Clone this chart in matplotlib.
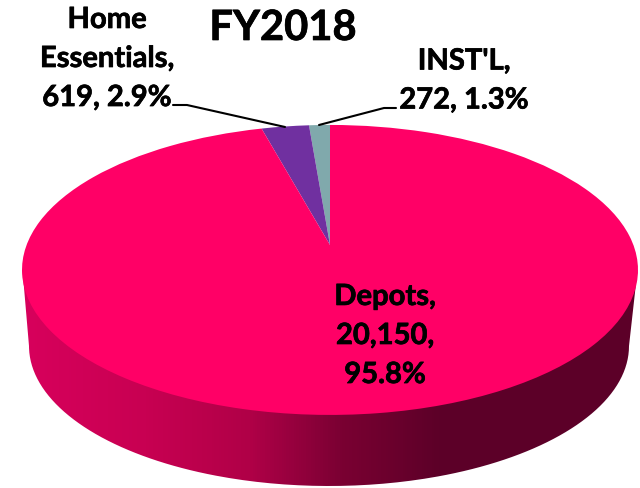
import numpy as np
import matplotlib
matplotlib.use("Agg")
import matplotlib.pyplot as plt
import matplotlib.patheffects as pe
from matplotlib.transforms import Transform
from matplotlib.path import Path
from matplotlib.patches import PathPatch
from matplotlib.colors import LinearSegmentedColormap

title = "FY2018"
names = ["INST'L", "Home\nEssentials", "Depots"]
values = [272, 619, 20150]
percents = ["1.3%", "2.9%", "95.8%"]
colors = ["#80A9AC", "#7030A0", "#FF0066"]

W, H = 640, 488
CX, CY = 330.0, 245.0
A, B, K = 303.4, 140.7, 0.172


class Perspective(Transform):
    """Maps the unit-circle pie onto a tilted disc in pixel coordinates."""
    input_dims = output_dims = 2
    has_inverted = False

    def transform_non_affine(self, xy):
        xy = np.asarray(xy, float)
        w = 1 + K * xy[:, 1]
        return np.column_stack((CX + A * xy[:, 0] / w, CY - B * xy[:, 1] / w))

    def transform_path_non_affine(self, path):
        p = path.interpolated(1)
        return Path(self.transform_non_affine(p.vertices), p.codes)


fig = plt.figure(figsize=(W / 100, H / 100), dpi=100)
ax = fig.add_axes([0, 0, 1, 1])

wedges, _ = ax.pie(values, colors=colors, startangle=90, counterclock=True,
                   wedgeprops=dict(linewidth=0))
persp = Perspective() + ax.transData
for w in wedges:
    w.set_zorder(3)
    w.set_transform(persp)

# side wall
t = np.linspace(0, np.pi, 200)
bx = 329 + 300 * np.cos(t)
by = 346 + 140 * np.sin(t)
wall = np.column_stack((np.r_[637.5, bx, 22.5], np.r_[270, by, 270]))
clip = PathPatch(Path(wall), transform=ax.transData, fc="none", ec="none")
ax.add_patch(clip)
cmap = LinearSegmentedColormap.from_list("wall", [
    (0.0, "#D8005C"), (0.2, "#C80052"), (0.37, "#B00047"), (0.47, "#8C003A"),
    (0.52, "#7A0032"), (0.68, "#5C0028"), (1.0, "#5C0028")])
img = ax.imshow(np.linspace(0, 1, 620)[None, :], cmap=cmap, aspect="auto",
                extent=(20, 640, 488, 260), zorder=2)
img.set_clip_path(clip)

ax.set_xlim(0, W)
ax.set_ylim(H, 0)
ax.set_aspect("auto")
ax.axis("off")

kw = dict(ha="center", va="center", fontweight="bold", color="black",
          zorder=5, fontfamily=["Lato", "DejaVu Sans"],
          path_effects=[pe.withStroke(linewidth=0.5, foreground="black")])
ax.text(283, 28, title, fontsize=30, **kw)
ax.text(107, 59, f"{names[1]},\n{values[1]:,}, {percents[1]}", fontsize=21,
        linespacing=1.62, **kw)
ax.text(464, 81, f"{names[0]},\n{values[0]:,}, {percents[0]}", fontsize=21,
        linespacing=1.62, **kw)
ax.text(385, 336, f"{names[2]},\n{values[2]:,},\n{percents[2]}", fontsize=21,
        linespacing=1.62, **kw)

ax.plot([173, 187, 285], [105, 105, 127], color="black", lw=1.5, zorder=4,
        solid_capstyle="round")
ax.plot([396, 384, 319], [108, 108, 125], color="black", lw=1.5, zorder=4,
        solid_capstyle="round")

fig.savefig("out.png", dpi=100)
